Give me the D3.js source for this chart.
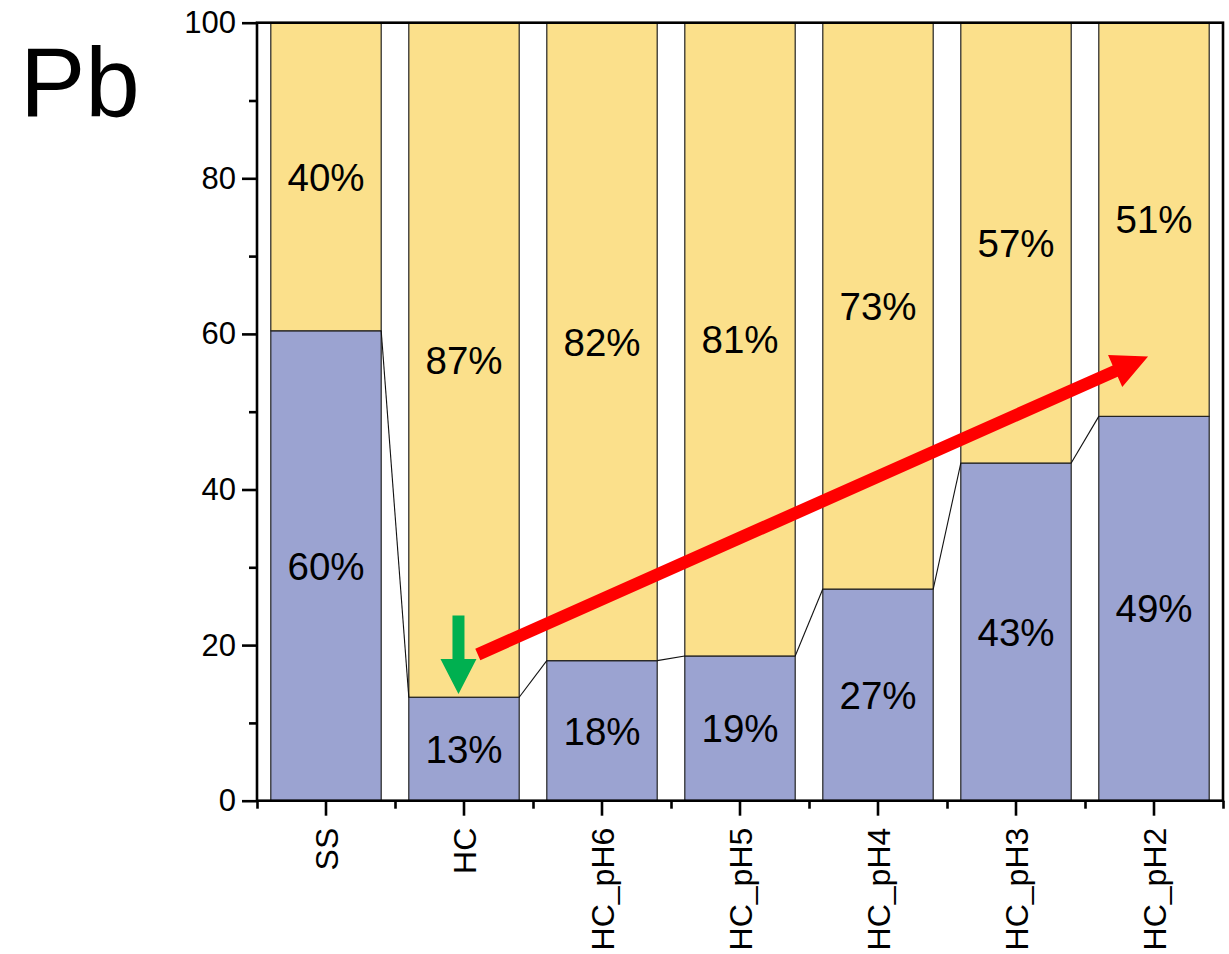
<!DOCTYPE html>
<html>
<head>
<meta charset="utf-8">
<script src="https://cdn.jsdelivr.net/npm/d3@7"></script>
<style>
  html, body { margin: 0; padding: 0; background: #fff; }
  svg { display: block; font-family: "Liberation Sans", Arial, sans-serif; }
</style>
</head>
<body>
<svg id="chart" width="1229" height="954"></svg>
<script>
// Pb fraction shares per sample (percent)
const categories = ["SS", "HC", "HC_pH6", "HC_pH5", "HC_pH4", "HC_pH3", "HC_pH2"];
const lowerShare = [60.4, 13.3, 18.0, 18.6, 27.2, 43.4, 49.4];
const upperShare = [39.6, 86.7, 82.0, 81.4, 72.8, 56.6, 50.6];
const yTicks = [0, 20, 40, 60, 80, 100];
const yMinorTicks = [10, 30, 50, 70, 90];
const title = "Pb";

const lowerColor = "#9BA3D1";
const upperColor = "#FBE08B";

const svg = d3.select("#chart");
const plot = { left: 257, right: 1223, top: 22.7, bottom: 800.7 };

const x = d3.scaleBand()
  .domain(categories)
  .range([plot.left, plot.right])
  .paddingInner(0.2)
  .paddingOuter(0.1);

// continuous index scale for category boundaries and annotations
const xi = d3.scaleLinear().domain([0, categories.length]).range([plot.left, plot.right]);

const y = d3.scaleLinear().domain([0, 100]).range([plot.bottom, plot.top]);

const rows = categories.map((c, i) => ({ cat: c, i, lo: lowerShare[i], hi: upperShare[i] }));

// stacked bars
const g = svg.append("g");
g.selectAll("rect.lo").data(rows).join("rect")
  .attr("class", "lo")
  .attr("x", d => x(d.cat))
  .attr("width", x.bandwidth())
  .attr("y", d => y(d.lo))
  .attr("height", d => y(0) - y(d.lo))
  .attr("fill", lowerColor)
  .attr("stroke", "#222")
  .attr("stroke-width", 1.2);

g.selectAll("rect.hi").data(rows).join("rect")
  .attr("class", "hi")
  .attr("x", d => x(d.cat))
  .attr("width", x.bandwidth())
  .attr("y", d => y(d.lo + d.hi))
  .attr("height", d => y(d.lo) - y(d.lo + d.hi))
  .attr("fill", upperColor)
  .attr("stroke", "#222")
  .attr("stroke-width", 1.2);

// connector lines between the tops of the lower segments
g.selectAll("line.conn").data(rows.slice(0, -1)).join("line")
  .attr("class", "conn")
  .attr("x1", d => x(d.cat) + x.bandwidth())
  .attr("y1", d => y(d.lo))
  .attr("x2", d => x(categories[d.i + 1]))
  .attr("y2", d => y(rows[d.i + 1].lo))
  .attr("stroke", "#111")
  .attr("stroke-width", 1.1);

// percentage labels
const labelFont = 38.5;
g.selectAll("text.lo").data(rows).join("text")
  .attr("x", d => x(d.cat) + x.bandwidth() / 2)
  .attr("y", d => (y(0) + y(d.lo)) / 2)
  .attr("dy", "0.36em")
  .attr("text-anchor", "middle")
  .attr("font-size", labelFont)
  .attr("fill", "#000")
  .text(d => Math.round(d.lo) + "%");

g.selectAll("text.hi").data(rows).join("text")
  .attr("x", d => x(d.cat) + x.bandwidth() / 2)
  .attr("y", d => (y(d.lo) + y(d.lo + d.hi)) / 2)
  .attr("dy", "0.36em")
  .attr("text-anchor", "middle")
  .attr("font-size", labelFont)
  .attr("fill", "#000")
  .text(d => Math.round(d.hi) + "%");

// frame
svg.append("rect")
  .attr("x", plot.left).attr("y", plot.top)
  .attr("width", plot.right - plot.left).attr("height", plot.bottom - plot.top)
  .attr("fill", "none").attr("stroke", "#000").attr("stroke-width", 2.6);

// y axis
const yAxis = svg.append("g").attr("transform", `translate(${plot.left},0)`)
  .call(d3.axisLeft(y).tickValues(yTicks).tickSize(15).tickSizeOuter(0).tickPadding(6));
yAxis.select(".domain").remove();
yAxis.selectAll("line").attr("stroke", "#000").attr("stroke-width", 2.6);
yAxis.selectAll("text").attr("font-size", 31).attr("fill", "#000")
  .attr("font-family", "Liberation Sans, Arial, sans-serif");

const yMinor = svg.append("g").attr("transform", `translate(${plot.left},0)`)
  .call(d3.axisLeft(y).tickValues(yMinorTicks).tickSize(8).tickSizeOuter(0).tickFormat(""));
yMinor.select(".domain").remove();
yMinor.selectAll("line").attr("stroke", "#000").attr("stroke-width", 2.6);

// x axis
const xAxis = svg.append("g").attr("transform", `translate(0,${plot.bottom})`)
  .call(d3.axisBottom(x).tickSize(15).tickSizeOuter(0).tickPadding(0));
xAxis.select(".domain").remove();
xAxis.selectAll("line").attr("stroke", "#000").attr("stroke-width", 2.6);
xAxis.selectAll("text")
  .attr("font-size", 32).attr("fill", "#000")
  .attr("font-family", "Liberation Sans, Arial, sans-serif")
  .attr("transform", "rotate(-90)")
  .attr("text-anchor", "end")
  .attr("x", -27)
  .attr("y", 0)
  .attr("dy", "0.36em");

const xMinor = svg.append("g").attr("transform", `translate(0,${plot.bottom})`)
  .call(d3.axisBottom(xi).tickValues(d3.range(0, categories.length + 1)).tickSize(8).tickSizeOuter(0).tickFormat(""));
xMinor.select(".domain").remove();
xMinor.selectAll("line").attr("stroke", "#000").attr("stroke-width", 2.6);

// title
svg.append("text")
  .attr("x", 20).attr("y", 116)
  .attr("font-size", 98)
  .attr("fill", "#000")
  .text(title);

// arrow helper: filled arrow polygon from tail to tip
function arrowPath(x1, y1, x2, y2, shaftW, headL, headW) {
  const dx = x2 - x1, dy = y2 - y1;
  const len = Math.hypot(dx, dy);
  const ux = dx / len, uy = dy / len;
  const nx = -uy, ny = ux;
  const bx = x2 - ux * headL, by = y2 - uy * headL;
  const pts = [
    [x1 + nx * shaftW / 2, y1 + ny * shaftW / 2],
    [bx + nx * shaftW / 2, by + ny * shaftW / 2],
    [bx + nx * headW / 2, by + ny * headW / 2],
    [x2, y2],
    [bx - nx * headW / 2, by - ny * headW / 2],
    [bx - nx * shaftW / 2, by - ny * shaftW / 2],
    [x1 - nx * shaftW / 2, y1 - ny * shaftW / 2]
  ];
  return "M" + pts.map(p => p.join(",")).join("L") + "Z";
}

// green arrow pointing at the HC lower segment
const gx = xi(1.46);
svg.append("path")
  .attr("d", arrowPath(gx, y(23.8), gx, y(13.7), 12, 35, 36))
  .attr("fill", "#00B050");

// red trend arrow from HC rising toward HC_pH2
svg.append("path")
  .attr("d", arrowPath(xi(1.6), y(18.8), xi(6.457), y(57.1), 12.5, 36, 35))
  .attr("fill", "#FF0000");
</script>
</body>
</html>
